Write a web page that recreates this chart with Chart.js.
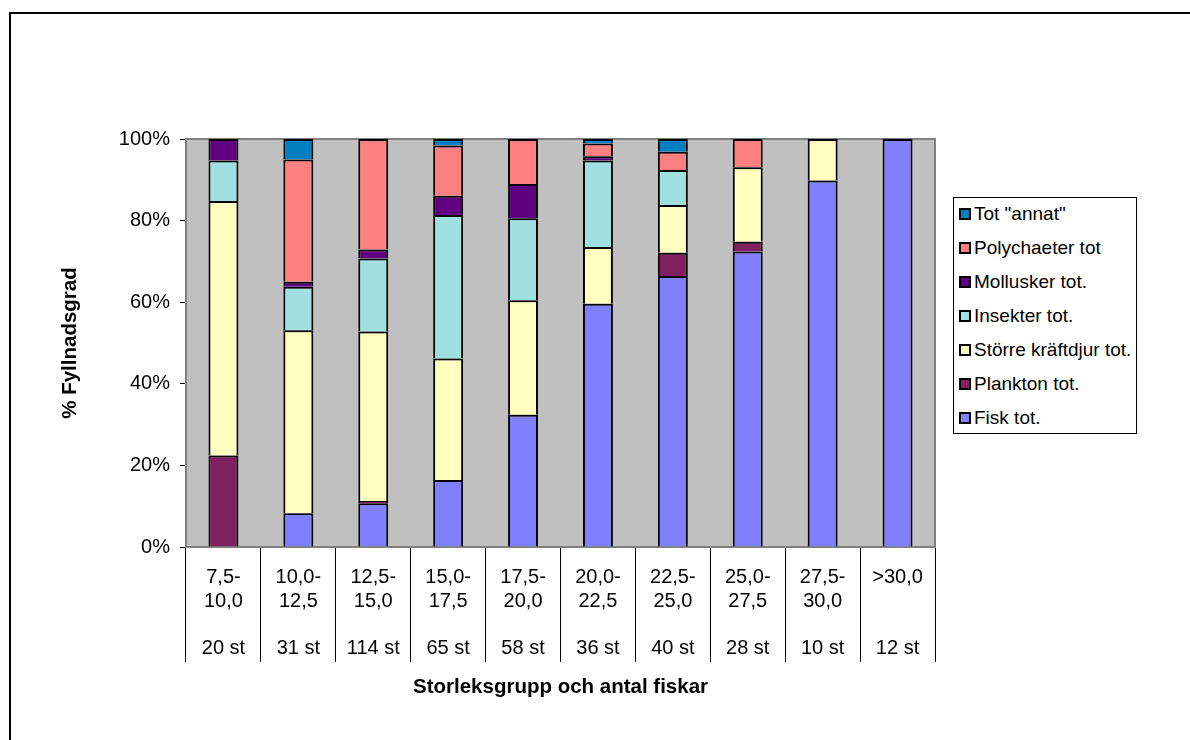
<!DOCTYPE html>
<html>
<head>
<meta charset="utf-8">
<script src="https://cdn.jsdelivr.net/npm/chart.js@4.4.1/dist/chart.umd.min.js"></script>
<style>
  body { margin: 0; background: #fff; }
  #wrap { position: relative; width: 1190px; height: 740px; overflow: hidden; }
  #legend {
    position: absolute; left: 953px; top: 197px; width: 184px; height: 237px;
    border: 1px solid #000; box-sizing: border-box; background: #fff;
    font-family: "Liberation Sans", Arial, sans-serif; font-size: 19px; color: #000;
  }
  #legend div { position: absolute; left: 5px; height: 22px; line-height: 22px; white-space: nowrap; }
  #legend span {
    display: inline-block; width: 8px; height: 8px; border: 2px solid #000;
    margin-right: 3px; vertical-align: 0px;
  }
</style>
</head>
<body>
<div id="wrap">
  <canvas id="chart" width="1190" height="740"></canvas>
  <div id="legend"></div>
</div>
<script>
// Storleksgrupp (cm) och antal fiskar
const ranges = [["7,5-", "10,0"], ["10,0-", "12,5"], ["12,5-", "15,0"], ["15,0-", "17,5"], ["17,5-", "20,0"],
                ["20,0-", "22,5"], ["22,5-", "25,0"], ["25,0-", "27,5"], ["27,5-", "30,0"], [">30,0", ""]];
const counts = ["20 st", "31 st", "114 st", "65 st", "58 st", "36 st", "40 st", "28 st", "10 st", "12 st"];

// % fyllnadsgrad per födotyp
const fisk      = [0, 8.3, 10.7, 16.4, 32.4, 59.6, 66.4, 72.4, 89.8, 100];
const plankton  = [22.4, 0, 0.6, 0, 0, 0, 5.7, 2.4, 0, 0];
const storre    = [62.4, 44.8, 41.5, 29.8, 28.1, 13.9, 11.7, 18.3, 10.2, 0];
const insekter  = [9.9, 10.7, 17.9, 35.2, 20.1, 21.2, 8.6, 0, 0, 0];
const mollusker = [5.3, 1.2, 2.2, 4.7, 8.4, 1.1, 0, 0, 0, 0];
const polych    = [0, 30, 27.1, 12.3, 11, 3.1, 4.5, 6.9, 0, 0];
const annat     = [0, 5.0, 0, 1.6, 0, 1.1, 3.1, 0, 0, 0];

const yTicks = [0, 20, 40, 60, 80, 100];

const FONT = '"Liberation Sans", Arial, sans-serif';

const series = [
  { label: "Fisk tot.", data: fisk, color: "#8080FF" },
  { label: "Plankton tot.", data: plankton, color: "#802060" },
  { label: "Större kräftdjur tot.", data: storre, color: "#FFFFC0" },
  { label: "Insekter tot.", data: insekter, color: "#A0E0E0" },
  { label: "Mollusker tot.", data: mollusker, color: "#600080" },
  { label: "Polychaeter tot", data: polych, color: "#FF8080" },
  { label: 'Tot "annat"', data: annat, color: "#0080C0" }
];

const labels = ranges.map((r, i) => [r[0], r[1], "", counts[i]]);

// gray plot area + outer frame
const bgPlugin = {
  id: "bg",
  beforeDatasetsDraw(c) {
    const a = c.chartArea, ctx = c.ctx;
    ctx.save();
    ctx.fillStyle = "#C0C0C0";
    ctx.fillRect(a.left, a.top, a.right - a.left, a.bottom - a.top);
    ctx.strokeStyle = "#808080";
    ctx.lineWidth = 2;
    ctx.strokeRect(a.left, a.top, a.right - a.left, a.bottom - a.top);
    ctx.restore();
  },
  afterDraw(c) {
    const ctx = c.ctx;
    ctx.save();
    ctx.strokeStyle = "#000";
    ctx.lineWidth = 2;
    ctx.beginPath();
    ctx.moveTo(10, 740);
    ctx.lineTo(10, 13);
    ctx.lineTo(1190, 13);
    ctx.stroke();
    ctx.restore();
  }
};

chart = new Chart(document.getElementById("chart"), {
  type: "bar",
  data: {
    labels: labels,
    datasets: series.map(s => ({
      label: s.label,
      data: s.data,
      backgroundColor: s.color,
      borderColor: "#000",
      borderWidth: 2,
      barPercentage: 0.4,
      categoryPercentage: 1
    }))
  },
  options: {
    responsive: false,
    animation: false,
    layout: { padding: { top: 139, right: 255, left: 0, bottom: 0 } },
    plugins: { legend: { display: false }, tooltip: { enabled: false } },
    scales: {
      x: {
        stacked: true,
        afterFit: s => { s.height = 193; },
        grid: { offset: true, drawOnChartArea: false, tickLength: 115, color: "#000", lineWidth: 1 },
        border: { color: "#000", width: 1 },
        ticks: {
          autoSkip: false, maxRotation: 0, color: "#000", padding: -96,
          font: { family: FONT, size: 20, lineHeight: "23.5px" }
        },
        title: {
          display: true, text: "Storleksgrupp och antal fiskar", color: "#000",
          font: { family: FONT, size: 20.5, weight: "bold" },
          padding: { top: 0, bottom: 40 }
        }
      },
      y: {
        stacked: true,
        min: 0, max: 100,
        afterFit: s => { s.width = 186; },
        afterBuildTicks: s => { s.ticks = yTicks.map(v => ({ value: v })); },
        grid: { drawOnChartArea: false, tickLength: 6, color: "#000" },
        border: { color: "#000", width: 1 },
        ticks: {
          color: "#000", padding: 10,
          font: { family: FONT, size: 20 },
          callback: v => v + "%"
        },
        title: {
          display: true, text: "% Fyllnadsgrad", color: "#000",
          font: { family: FONT, size: 20.5, weight: "bold" },
          padding: { top: 58, bottom: 0 }
        }
      }
    }
  },
  plugins: [bgPlugin]
});

// legend, top entry = top of stack
const legend = document.getElementById("legend");
series.slice().reverse().forEach((s, i) => {
  const row = document.createElement("div");
  row.style.top = (5 + i * 34) + "px";
  row.innerHTML = '<span style="background:' + s.color + '"></span>' + s.label.replace(/"/g, "&quot;");
  legend.appendChild(row);
});
</script>
</body>
</html>
